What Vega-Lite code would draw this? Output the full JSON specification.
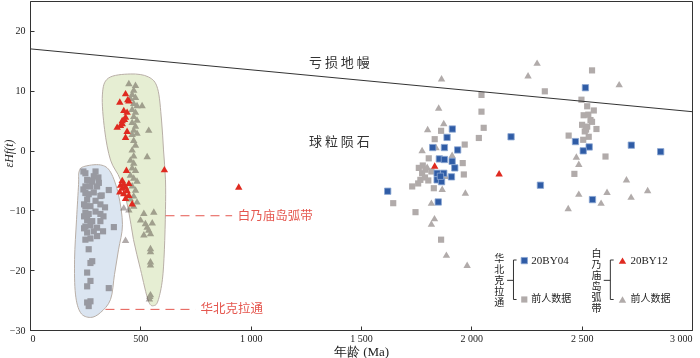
{
  "$schema": "https://vega.github.io/schema/vega-lite/v6.json",
  "width": 662,
  "height": 329,
  "autosize": "none",
  "padding": {"left": 30, "top": 1, "right": 8, "bottom": 28},
  "background": "white",
  "config": {"view": {"stroke": "#333", "strokeWidth": 1}, "font": "Liberation Serif"},
  "datasets": {
    "ncc_prev": [
      {"age":242,"ehf":-3.5},{"age":251,"ehf":-3.8},{"age":297,"ehf":-3.5},{"age":289,"ehf":-4.3},{"age":259,"ehf":-4.9},{"age":282,"ehf":-5.2},{"age":251,"ehf":-6.0},{"age":274,"ehf":-6.0},{"age":304,"ehf":-6.0},{"age":357,"ehf":-6.6},{"age":251,"ehf":-7.1},{"age":266,"ehf":-7.3},{"age":319,"ehf":-7.6},{"age":259,"ehf":-8.2},{"age":297,"ehf":-8.4},{"age":325,"ehf":-7.5},{"age":251,"ehf":-9.3},{"age":274,"ehf":-9.3},{"age":319,"ehf":-9.0},{"age":340,"ehf":-9.5},{"age":251,"ehf":-10.4},{"age":266,"ehf":-10.6},{"age":297,"ehf":-10.2},{"age":319,"ehf":-10.6},{"age":333,"ehf":-11.0},{"age":259,"ehf":-11.6},{"age":282,"ehf":-11.8},{"age":319,"ehf":-11.8},{"age":251,"ehf":-12.7},{"age":274,"ehf":-12.5},{"age":304,"ehf":-12.9},{"age":380,"ehf":-12.8},{"age":259,"ehf":-13.7},{"age":289,"ehf":-13.5},{"age":331,"ehf":-13.5},{"age":251,"ehf":-14.9},{"age":274,"ehf":-14.7},{"age":304,"ehf":-14.3},{"age":266,"ehf":-16.5},{"age":274,"ehf":-18.8},{"age":282,"ehf":-18.5},{"age":259,"ehf":-20.4},{"age":274,"ehf":-21.8},{"age":259,"ehf":-22.7},{"age":357,"ehf":-23.0},{"age":259,"ehf":-25.4},{"age":274,"ehf":-25.2},{"age":266,"ehf":-26.0},{"age":266,"ehf":-5.0},{"age":289,"ehf":-7.0},{"age":242,"ehf":-6.5},{"age":245,"ehf":-9.0},{"age":245,"ehf":-11.0},{"age":245,"ehf":-13.0},{"age":310,"ehf":-4.5},{"age":312,"ehf":-5.4},
      {"age":1646,"ehf":-8.8},{"age":1747,"ehf":-10.3},{"age":1863,"ehf":-14.9},{"age":1966,"ehf":-4.0},{"age":1961,"ehf":-2.1},{"age":1732,"ehf":-6.0},{"age":1759,"ehf":-5.5},{"age":1769,"ehf":-4.9},{"age":1777,"ehf":-3.8},{"age":1762,"ehf":-2.9},{"age":1792,"ehf":-3.2},{"age":1807,"ehf":-1.3},{"age":1819,"ehf":-3.5},{"age":1830,"ehf":-6.3},{"age":1863,"ehf":3.3},{"age":1834,"ehf":1.9},{"age":1970,"ehf":1.0},{"age":2034,"ehf":2.1},{"age":2056,"ehf":3.8},{"age":2046,"ehf":6.5},{"age":2046,"ehf":9.3},{"age":1790,"ehf":-4.5},{"age":1805,"ehf":-5.0},{"age":1780,"ehf":-2.5},
      {"age":2547,"ehf":13.4},{"age":2333,"ehf":9.9},{"age":2499,"ehf":8.5},{"age":2525,"ehf":7.4},{"age":2555,"ehf":6.7},{"age":2509,"ehf":5.9},{"age":2540,"ehf":5.1},{"age":2502,"ehf":4.3},{"age":2525,"ehf":4.0},{"age":2547,"ehf":4.8},{"age":2567,"ehf":3.6},{"age":2514,"ehf":3.2},{"age":2532,"ehf":2.3},{"age":2441,"ehf":2.5},{"age":2507,"ehf":1.8},{"age":2608,"ehf":-1.0},{"age":2467,"ehf":-3.9},{"age":2520,"ehf":3.5},{"age":2530,"ehf":6.0}
    ],
    "bai_prev": [
      {"age":1865,"ehf":12.1},{"age":1852,"ehf":7.2},{"age":1802,"ehf":3.6},{"age":1875,"ehf":4.6},{"age":1777,"ehf":0.1},{"age":1840,"ehf":0.6},{"age":1913,"ehf":-0.7},{"age":1883,"ehf":-4.2},{"age":1868,"ehf":-6.4},{"age":1973,"ehf":-7.0},{"age":1819,"ehf":-8.7},{"age":1833,"ehf":-11.3},{"age":1819,"ehf":-12.2},{"age":1887,"ehf":-17.4},{"age":1981,"ehf":-19.1},{"age":1800,"ehf":-2.7},
      {"age":2298,"ehf":14.7},{"age":2257,"ehf":12.6},{"age":2670,"ehf":11.1},{"age":2476,"ehf":-1.0},{"age":2487,"ehf":-2.2},{"age":2703,"ehf":-4.8},{"age":2799,"ehf":-6.6},{"age":2487,"ehf":-7.2},{"age":2615,"ehf":-6.9},{"age":2588,"ehf":-8.7},{"age":2724,"ehf":-7.7},{"age":2439,"ehf":-9.6},
      {"age":448,"ehf":11.3},{"age":478,"ehf":11.0},{"age":470,"ehf":10.2},{"age":463,"ehf":9.5},{"age":478,"ehf":9.0},{"age":455,"ehf":8.8},{"age":470,"ehf":8.0},{"age":485,"ehf":7.6},{"age":508,"ehf":7.6},{"age":463,"ehf":7.0},{"age":478,"ehf":6.5},{"age":470,"ehf":5.8},{"age":485,"ehf":5.2},{"age":463,"ehf":4.8},{"age":478,"ehf":4.2},{"age":470,"ehf":3.5},{"age":485,"ehf":3.0},{"age":538,"ehf":3.5},{"age":463,"ehf":2.8},{"age":470,"ehf":1.8},{"age":478,"ehf":1.0},{"age":463,"ehf":0.2},{"age":470,"ehf":-0.8},{"age":531,"ehf":-0.9},{"age":455,"ehf":-1.5},{"age":470,"ehf":-2.0},{"age":463,"ehf":-2.8},{"age":478,"ehf":-3.2},{"age":455,"ehf":-4.0},{"age":470,"ehf":-4.5},{"age":485,"ehf":-5.0},{"age":463,"ehf":-5.8},{"age":478,"ehf":-6.5},{"age":470,"ehf":-7.5},{"age":455,"ehf":-8.0},{"age":485,"ehf":-8.5},{"age":470,"ehf":-9.2},{"age":448,"ehf":-9.8},
      {"age":516,"ehf":-10.4},{"age":561,"ehf":-10.2},{"age":501,"ehf":-11.5},{"age":523,"ehf":-12.1},{"age":554,"ehf":-12.0},{"age":531,"ehf":-12.7},{"age":538,"ehf":-13.2},{"age":546,"ehf":-13.8},{"age":516,"ehf":-14.0},{"age":546,"ehf":-16.3},{"age":546,"ehf":-16.8},{"age":546,"ehf":-18.5},{"age":546,"ehf":-19.0},{"age":543,"ehf":-24.3},{"age":541,"ehf":-24.7},{"age":546,"ehf":-24.0},{"age":433,"ehf":-14.9},{"age":425,"ehf":-9.5}
    ],
    "by04": [
      {"age":1621,"ehf":-6.8},{"age":1850,"ehf":-8.6},{"age":1914,"ehf":3.6},{"age":1890,"ehf":2.2},{"age":1878,"ehf":0.5},{"age":1938,"ehf":0.1},{"age":1825,"ehf":0.5},{"age":1855,"ehf":-1.4},{"age":1878,"ehf":-1.5},{"age":1913,"ehf":-1.8},{"age":1925,"ehf":-2.9},{"age":1845,"ehf":-3.8},{"age":1875,"ehf":-3.8},{"age":1910,"ehf":-4.4},{"age":1845,"ehf":-4.9},{"age":1865,"ehf":-5.2},{"age":1860,"ehf":-4.3},{"age":2180,"ehf":2.3},{"age":2517,"ehf":10.5},{"age":2472,"ehf":1.5},{"age":2534,"ehf":0.6},{"age":2507,"ehf":-0.05},{"age":2725,"ehf":0.9},{"age":2858,"ehf":-0.2},{"age":2313,"ehf":-5.8},{"age":2549,"ehf":-8.2}
    ],
    "by12": [
      {"age":433,"ehf":9.6},{"age":407,"ehf":8.2},{"age":448,"ehf":8.4},{"age":443,"ehf":8.6},{"age":425,"ehf":6.8},{"age":440,"ehf":6.5},{"age":433,"ehf":5.7},{"age":418,"ehf":5.1},{"age":428,"ehf":5.3},{"age":395,"ehf":4.0},{"age":410,"ehf":4.3},{"age":418,"ehf":4.6},{"age":440,"ehf":3.3},{"age":433,"ehf":2.3},{"age":437,"ehf":-3.2},{"age":609,"ehf":-3.1},{"age":418,"ehf":-4.9},{"age":410,"ehf":-5.7},{"age":433,"ehf":-6.0},{"age":448,"ehf":-5.4},{"age":407,"ehf":-6.8},{"age":425,"ehf":-7.1},{"age":448,"ehf":-7.4},{"age":433,"ehf":-7.9},{"age":463,"ehf":-8.8},{"age":418,"ehf":-6.2},{"age":440,"ehf":-6.6},{"age":425,"ehf":-5.5},{"age":946,"ehf":-6.0},{"age":2126,"ehf":-3.8},{"age":1834,"ehf":-2.5}
    ],
    "ncc_zone": [
      {"i":1,"age":242,"ehf":-2.7},{"i":2,"age":319,"ehf":-2.4},{"i":3,"age":365,"ehf":-3.6},{"i":4,"age":401,"ehf":-7.4},{"i":5,"age":419,"ehf":-12.4},{"i":6,"age":401,"ehf":-16.6},{"i":7,"age":383,"ehf":-20.7},{"i":8,"age":365,"ehf":-24.9},{"i":9,"age":319,"ehf":-27.1},{"i":10,"age":274,"ehf":-27.9},{"i":11,"age":229,"ehf":-27.1},{"i":12,"age":206,"ehf":-24.0},{"i":13,"age":202,"ehf":-18.2},{"i":14,"age":211,"ehf":-11.5},{"i":15,"age":220,"ehf":-5.7},{"i":16,"age":222,"ehf":-3.6}
    ],
    "bai_zone": [
      {"i":1,"age":355,"ehf":12.1},{"i":2,"age":455,"ehf":12.8},{"i":3,"age":537,"ehf":12.3},{"i":4,"age":578,"ehf":10.4},{"i":5,"age":596,"ehf":5.1},{"i":6,"age":605,"ehf":0.1},{"i":7,"age":614,"ehf":-4.9},{"i":8,"age":614,"ehf":-9.9},{"i":9,"age":609,"ehf":-16.6},{"i":10,"age":600,"ehf":-21.6},{"i":11,"age":582,"ehf":-24.9},{"i":12,"age":564,"ehf":-25.9},{"i":13,"age":537,"ehf":-25.2},{"i":14,"age":501,"ehf":-19.9},{"i":15,"age":469,"ehf":-14.9},{"i":16,"age":446,"ehf":-9.9},{"i":17,"age":410,"ehf":-4.9},{"i":18,"age":365,"ehf":-1.6},{"i":19,"age":338,"ehf":3.5},{"i":20,"age":328,"ehf":9.3}
    ],
    "legend_keys": [
      {"key":"by04","age":2240,"ehf":-18.4},
      {"key":"ncc","age":2240,"ehf":-24.9},
      {"key":"by12","age":2685,"ehf":-18.4},
      {"key":"bai","age":2685,"ehf":-24.9}
    ]
  },
  "layer": [
    {
      "data": {"name": "ncc_prev"},
      "mark": {"type": "point", "shape": "square", "filled": true, "color": "#b1abaa", "size": 38, "opacity": 1},
      "encoding": {
        "x": {"field": "age", "type": "quantitative", "scale": {"domain": [0, 3000], "nice": false, "zero": false},
          "axis": {"values": [0, 500, 1000, 1500, 2000, 2500, 3000], "title": "年龄 (Ma)", "grid": false,
            "labelExpr": "datum.value >= 1000 ? replace(format(datum.value, ','), ',', ' ') : datum.label",
            "tickSize": -4, "labelPadding": 7, "labelFont": "Liberation Serif", "labelFontSize": 10, "labelColor": "#222",
            "domainColor": "#333", "tickColor": "#333", "titleFont": "Liberation Serif", "titleFontSize": 13, "titleFontWeight": "normal", "titleColor": "#222", "titlePadding": 2}},
        "y": {"field": "ehf", "type": "quantitative", "scale": {"domain": [-30, 25], "nice": false, "zero": false},
          "axis": {"values": [-30, -25, -20, -15, -10, -5, 0, 5, 10, 15, 20, 25], "title": "εHf(t)", "grid": false,
            "labelExpr": "datum.value % 10 === 0 ? datum.label : ''",
            "tickSize": -4, "labelPadding": 9, "labelFont": "Liberation Serif", "labelFontSize": 10, "labelColor": "#222",
            "domainColor": "#333", "tickColor": "#333", "titleFont": "Liberation Serif", "titleFontSize": 12, "titleFontWeight": "normal", "titleFontStyle": "italic", "titleColor": "#222",
            "titleX": -15, "titleY": 152}}
      }
    },
    {
      "data": {"name": "bai_prev"},
      "mark": {"type": "point", "shape": "triangle-up", "filled": true, "color": "#b1abaa", "size": 55, "opacity": 1},
      "encoding": {"x": {"field": "age", "type": "quantitative"}, "y": {"field": "ehf", "type": "quantitative"}}
    },
    {
      "data": {"name": "ncc_zone"},
      "mark": {"type": "line", "interpolate": "cardinal-closed", "fill": "#dbe5f1", "stroke": "#b8aea6", "strokeWidth": 1, "blend": "multiply"},
      "encoding": {"x": {"field": "age", "type": "quantitative"}, "y": {"field": "ehf", "type": "quantitative"}, "order": {"field": "i", "type": "quantitative"}}
    },
    {
      "data": {"name": "bai_zone"},
      "mark": {"type": "line", "interpolate": "cardinal-closed", "fill": "#e6eed3", "stroke": "#b8aea6", "strokeWidth": 1, "blend": "multiply"},
      "encoding": {"x": {"field": "age", "type": "quantitative"}, "y": {"field": "ehf", "type": "quantitative"}, "order": {"field": "i", "type": "quantitative"}}
    },
    {
      "data": {"values": [{"age": 0, "ehf": 17}, {"age": 3000, "ehf": 6.5}]},
      "mark": {"type": "line", "color": "#333", "strokeWidth": 1},
      "encoding": {"x": {"field": "age", "type": "quantitative"}, "y": {"field": "ehf", "type": "quantitative"}}
    },
    {
      "mark": {"type": "rule", "color": "#333", "strokeWidth": 1},
      "encoding": {"y": {"datum": 0}}
    },
    {
      "data": {"values": [{"label": "亏 损 地 幔", "age": 1402, "ehf": 14.6}, {"label": "球 粒 陨 石", "age": 1402, "ehf": 1.5}]},
      "mark": {"type": "text", "font": "Noto Sans CJK SC", "fontSize": 13, "color": "#333", "align": "center", "baseline": "middle"},
      "encoding": {"x": {"field": "age", "type": "quantitative"}, "y": {"field": "ehf", "type": "quantitative"}, "text": {"field": "label"}}
    },
    {
      "data": {"values": [{"a1": 614, "a2": 916, "ehf": -10.9}, {"a1": 342, "a2": 750, "ehf": -26.55}]},
      "mark": {"type": "rule", "color": "#e5574f", "strokeWidth": 1, "strokeDash": [9, 6]},
      "encoding": {"x": {"field": "a1", "type": "quantitative"}, "x2": {"field": "a2"}, "y": {"field": "ehf", "type": "quantitative"}}
    },
    {
      "data": {"values": [{"label": "白乃庙岛弧带", "age": 942, "ehf": -10.9}, {"label": "华北克拉通", "age": 773, "ehf": -26.55}]},
      "mark": {"type": "text", "font": "Noto Sans CJK SC", "fontSize": 12.5, "color": "#e5574f", "align": "left", "baseline": "middle"},
      "encoding": {"x": {"field": "age", "type": "quantitative"}, "y": {"field": "ehf", "type": "quantitative"}, "text": {"field": "label"}}
    },
    {
      "data": {"name": "by04"},
      "mark": {"type": "point", "shape": "square", "filled": true, "color": "#2f5ca6", "stroke": "#8aa6d2", "strokeWidth": 0.8, "size": 40, "opacity": 1},
      "encoding": {"x": {"field": "age", "type": "quantitative"}, "y": {"field": "ehf", "type": "quantitative"}}
    },
    {
      "data": {"name": "by12"},
      "mark": {"type": "point", "shape": "triangle-up", "filled": true, "color": "#df2a20", "size": 55, "opacity": 1},
      "encoding": {"x": {"field": "age", "type": "quantitative"}, "y": {"field": "ehf", "type": "quantitative"}}
    },
    {
      "data": {"values": [
        {"a1": 2162, "a2": 2191, "e1": -21.7, "e2": -21.7},
        {"a1": 2191, "a2": 2191, "e1": -18.3, "e2": -24.9},
        {"a1": 2191, "a2": 2205, "e1": -18.3, "e2": -18.3},
        {"a1": 2191, "a2": 2205, "e1": -24.9, "e2": -24.9},
        {"a1": 2600, "a2": 2630, "e1": -21.7, "e2": -21.7},
        {"a1": 2630, "a2": 2630, "e1": -18.3, "e2": -24.9},
        {"a1": 2630, "a2": 2645, "e1": -18.3, "e2": -18.3},
        {"a1": 2630, "a2": 2645, "e1": -24.9, "e2": -24.9}
      ]},
      "mark": {"type": "rule", "color": "#333", "strokeWidth": 1},
      "encoding": {"x": {"field": "a1", "type": "quantitative"}, "x2": {"field": "a2"}, "y": {"field": "e1", "type": "quantitative"}, "y2": {"field": "e2"}}
    },
    {
      "data": {"name": "legend_keys"},
      "transform": [{"filter": "datum.key === 'by04'"}],
      "mark": {"type": "point", "shape": "square", "filled": true, "color": "#2f5ca6", "stroke": "#8aa6d2", "strokeWidth": 0.8, "size": 40, "opacity": 1},
      "encoding": {"x": {"field": "age", "type": "quantitative"}, "y": {"field": "ehf", "type": "quantitative"}}
    },
    {
      "data": {"name": "legend_keys"},
      "transform": [{"filter": "datum.key === 'ncc'"}],
      "mark": {"type": "point", "shape": "square", "filled": true, "color": "#b1abaa", "size": 38, "opacity": 1},
      "encoding": {"x": {"field": "age", "type": "quantitative"}, "y": {"field": "ehf", "type": "quantitative"}}
    },
    {
      "data": {"name": "legend_keys"},
      "transform": [{"filter": "datum.key === 'by12'"}],
      "mark": {"type": "point", "shape": "triangle-up", "filled": true, "color": "#df2a20", "size": 55, "opacity": 1},
      "encoding": {"x": {"field": "age", "type": "quantitative"}, "y": {"field": "ehf", "type": "quantitative"}}
    },
    {
      "data": {"name": "legend_keys"},
      "transform": [{"filter": "datum.key === 'bai'"}],
      "mark": {"type": "point", "shape": "triangle-up", "filled": true, "color": "#b1abaa", "size": 55, "opacity": 1},
      "encoding": {"x": {"field": "age", "type": "quantitative"}, "y": {"field": "ehf", "type": "quantitative"}}
    },
    {
      "data": {"values": [{"label": "20BY04", "age": 2272, "ehf": -18.4}, {"label": "20BY12", "age": 2721, "ehf": -18.4}]},
      "mark": {"type": "text", "font": "Liberation Serif", "fontSize": 11, "color": "#222", "align": "left", "baseline": "middle"},
      "encoding": {"x": {"field": "age", "type": "quantitative"}, "y": {"field": "ehf", "type": "quantitative"}, "text": {"field": "label"}}
    },
    {
      "data": {"values": [{"label": "前人数据", "age": 2272, "ehf": -24.9}, {"label": "前人数据", "age": 2721, "ehf": -24.9}]},
      "mark": {"type": "text", "font": "Noto Sans CJK SC", "fontSize": 10, "color": "#222", "align": "left", "baseline": "middle"},
      "encoding": {"x": {"field": "age", "type": "quantitative"}, "y": {"field": "ehf", "type": "quantitative"}, "text": {"field": "label"}}
    },
    {
      "data": {"values": [{"label": "华\n北\n克\n拉\n通", "age": 2127, "ehf": -17.3}, {"label": "白\n乃\n庙\n岛\n弧\n带", "age": 2567, "ehf": -16.4}]},
      "mark": {"type": "text", "font": "Noto Sans CJK SC", "fontSize": 10, "lineHeight": 11, "lineBreak": "\n", "color": "#222", "align": "center", "baseline": "top"},
      "encoding": {"x": {"field": "age", "type": "quantitative"}, "y": {"field": "ehf", "type": "quantitative"}, "text": {"field": "label"}}
    }
  ]
}
